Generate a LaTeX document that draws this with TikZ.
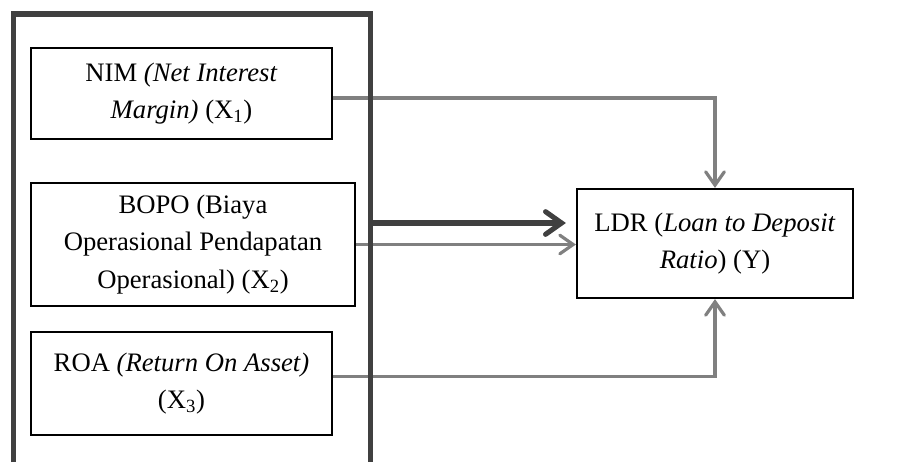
\documentclass[tikz,border=0pt]{standalone}
\usepackage{fontspec}
\setmainfont{Liberation Serif}
\usetikzlibrary{arrows.meta,positioning}

\definecolor{framegray}{HTML}{404040}
\definecolor{linegray}{HTML}{808080}

\begin{document}
\begin{tikzpicture}[
    x=0.75pt, y=-0.75pt,
    varbox/.style={draw=black, line width=1.6pt, align=center, inner sep=0pt,
      font=\fontsize{20}{28}\selectfont},
    link/.style={-{Straight Barb[length=10pt, width=14pt, line cap=round]},
      draw=linegray, line width=2.4pt},
    mainlink/.style={-{Straight Barb[length=12pt, width=17pt, line cap=round]},
      draw=framegray, line width=3.8pt},
    frame/.style={draw=framegray, line width=3.8pt}
  ]
    \useasboundingbox (0,0) rectangle (899,462);
    \node[varbox, minimum width=225.75pt, minimum height=68.25pt] (nim) at (181.5,93.5)
      {NIM \textit{(Net Interest}\\\textit{Margin)} (X\textsubscript{1})};
    \node[varbox, minimum width=243pt, minimum height=92.25pt] (bopo) at (193,244.5)
      {BOPO (Biaya\\Operasional Pendapatan\\Operasional) (X\textsubscript{2})};
    \node[varbox, minimum width=225.75pt, minimum height=77.25pt] (roa) at (181.5,383.5)
      {ROA \textit{(Return On Asset)}\\(X\textsubscript{3})};
    \node[varbox, minimum width=207pt, minimum height=81.75pt] (ldr) at (715,243.5)
      {LDR (\textit{Loan to Deposit}\\\textit{Ratio}) (Y)};
    % open frame round the three variables
    \coordinate (frameR) at (370.5,223);
    \draw[link] ([yshift=-3.4pt]nim.east) -| (ldr.north);
    \draw[link] (bopo.east) -- (bopo.east -| ldr.west);
    \draw[link] ([yshift=5.3pt]roa.east) -| (ldr.south);
    \draw[frame] (13.5,462) -- (13.5,14) -- (370.5,14) -- (370.5,462);
    \draw[mainlink, shorten >=7.5pt] (frameR) -- (frameR -| ldr.west);
  \end{tikzpicture}
\end{document}
